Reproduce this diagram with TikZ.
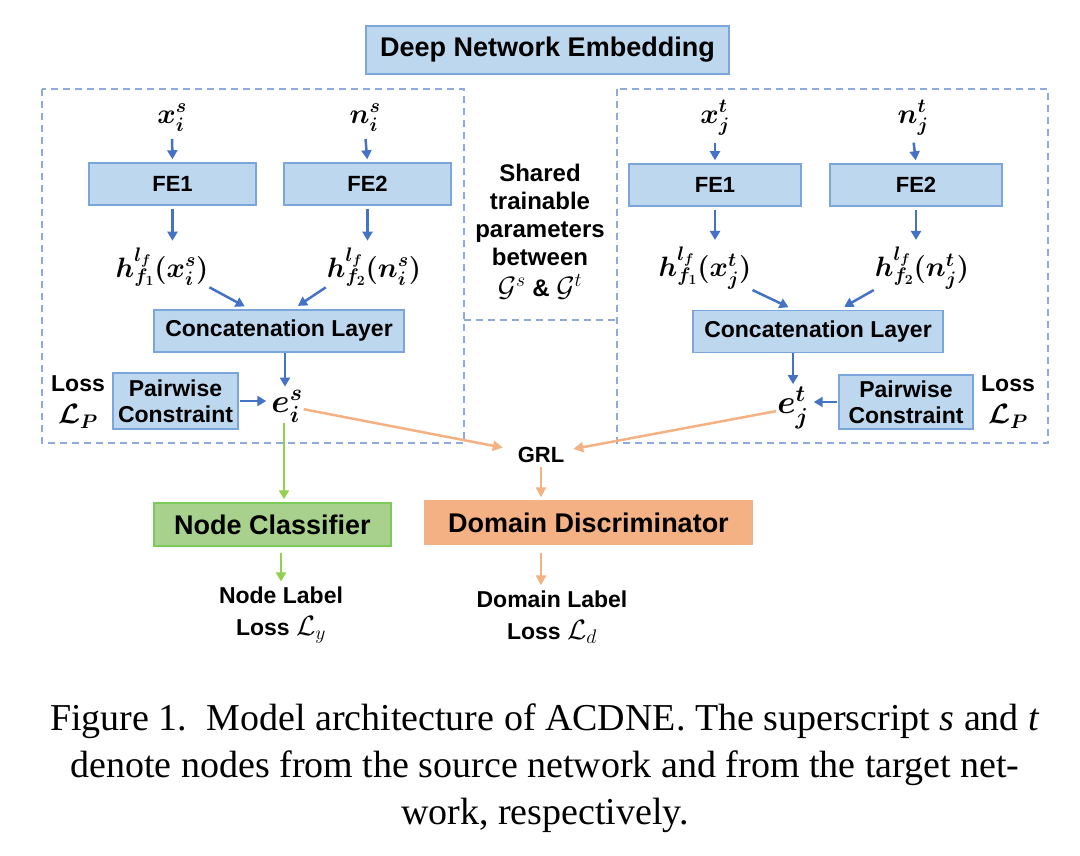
\documentclass[tikz,border=0pt]{standalone}
\usepackage{fix-cm}
\usepackage{fontspec}
\setmainfont{Liberation Serif}
\newfontfamily\arialfont{Liberation Sans}
\usetikzlibrary{arrows.meta}
\definecolor{boxfill}{HTML}{BDD7EE}
\definecolor{boxline}{HTML}{7AA6DB}
\definecolor{dashblue}{HTML}{8FAADC}
\definecolor{arrblue}{HTML}{4472C4}
\definecolor{orangeline}{HTML}{F4B183}
\definecolor{greenline}{HTML}{92D050}
\definecolor{greenfill}{HTML}{A9D18E}
\definecolor{greenedge}{HTML}{7CCB5A}
\newcommand{\mathbig}[1]{{\fontsize{28}{28}\selectfont#1}}
\begin{document}
\begin{tikzpicture}[x=1pt, y=-1pt,
	box/.style={draw=boxline, fill=boxfill, line width=1.5pt, inner sep=0pt, align=center, font=\arialfont\bfseries\fontsize{23}{26}\selectfont},
	sym/.style={inner sep=1pt, font=\fontsize{28}{32}\selectfont\boldmath},
	txt/.style={inner sep=1pt, align=center, font=\arialfont\bfseries\fontsize{23}{29}\selectfont},
	captxt/.style={inner sep=0pt, font=\fontsize{38}{47}\selectfont},
	dashbox/.style={draw=dashblue, line width=1.5pt, dash pattern=on 7pt off 5pt},
	barr/.style={draw=arrblue, line width=2.5pt, -{Triangle[length=9pt, width=10pt]}},
	oarr/.style={draw=orangeline, line width=2.5pt, -{Triangle[length=10pt, width=10pt]}},
	garr/.style={draw=greenline, line width=2.5pt, -{Triangle[length=9pt, width=10pt]}}]
	\useasboundingbox (0,0) rectangle (1080,856);
	\draw [dashbox] (42,89) rectangle (464,443);
	\draw [dashbox] (617,89) rectangle (1048,443);
	\draw [dashbox] (464,320) -- (617,320);
	\node [box, minimum width=363, minimum height=48, font=\arialfont\bfseries\fontsize{27}{32}\selectfont] (dne) at (547.5,50) {Deep Network Embedding};
	\node [txt, font=\arialfont\bfseries\fontsize{24}{28}\selectfont] (shared) at (540,232) {Shared\\trainable\\parameters\\between\\[3pt]\mathbig{$\mathcal{G}^s$} \& \mathbig{$\mathcal{G}^t$}};

	\node [sym] (xs) at (172,118) {$x_i^s$};
	\node [sym] (ns) at (365,118) {$n_i^s$};
	\node [box, minimum width=167, minimum height=42, font=\arialfont\bfseries\fontsize{22}{26}\selectfont] (fe1s) at (172.5,184) {FE1};
	\node [box, minimum width=167, minimum height=42, font=\arialfont\bfseries\fontsize{22}{26}\selectfont] (fe2s) at (367.5,184) {FE2};
	\node [sym] (hxs) at (162,267) {$h_{f_1}^{l_f}(x_i^s)$};
	\node [sym] (hns) at (374,267) {$h_{f_2}^{l_f}(n_i^s)$};
	\node [box, minimum width=250, minimum height=42] (cats) at (279,331) {Concatenation Layer};
	\node [sym, font=\fontsize{33}{36}\selectfont\boldmath] (es) at (287,406) {$e_i^s$};
	\node [box, minimum width=125, minimum height=56] (pcs) at (175.5,401) {Pairwise\\Constraint};
	\node [txt] (losss) at (78,402) {Loss\\[3pt]\mathbig{\boldmath$\mathcal{L}_P$}};

	\node [sym] (xt) at (715,118) {$x_j^t$};
	\node [sym] (nt) at (913,118) {$n_j^t$};
	\node [box, minimum width=172, minimum height=42, font=\arialfont\bfseries\fontsize{22}{26}\selectfont] (fe1t) at (715,185) {FE1};
	\node [box, minimum width=172, minimum height=42, font=\arialfont\bfseries\fontsize{22}{26}\selectfont] (fe2t) at (916,185) {FE2};
	\node [sym] (hxt) at (705,268) {$h_{f_1}^{l_f}(x_j^t)$};
	\node [sym] (hnt) at (922,268) {$h_{f_2}^{l_f}(n_j^t)$};
	\node [box, minimum width=250, minimum height=42] (catt) at (818,331.5) {Concatenation Layer};
	\node [sym, font=\fontsize{33}{36}\selectfont\boldmath] (et) at (793,408) {$e_j^t$};
	\node [box, minimum width=134, minimum height=54] (pct) at (906,402) {Pairwise\\Constraint};
	\node [txt] (losst) at (1008,402) {Loss\\[3pt]\mathbig{\boldmath$\mathcal{L}_P$}};

	\node [txt, font=\arialfont\bfseries\fontsize{22}{26}\selectfont] (grl) at (541,455) {GRL};
	\node [box, draw=greenedge, fill=greenfill, minimum width=237, minimum height=43, font=\arialfont\bfseries\fontsize{27}{32}\selectfont] (nc) at (272.5,524.5) {Node Classifier};
	\node [box, draw=orangeline, fill=orangeline, minimum width=327, minimum height=43, font=\arialfont\bfseries\fontsize{27}{32}\selectfont] (dd) at (588.5,522.5) {Domain Discriminator};
	\node [txt] (nl) at (281,615) {Node Label\\[3pt]Loss \mathbig{$\mathcal{L}_y$}};
	\node [txt] (dl) at (552,617) {Domain Label\\[3pt]Loss \mathbig{$\mathcal{L}_d$}};

	\draw [barr, shorten <=6pt, shorten >=3pt] (xs.south) -- (fe1s.north);
	\draw [barr, shorten <=6pt, shorten >=3pt] (ns.south) -- (fe2s.north);
	\draw [barr, shorten <=3pt, shorten >=6pt] (fe1s.south) -- (fe1s.south |- hxs.north);
	\draw [barr, shorten <=3pt, shorten >=6pt] (fe2s.south) -- (fe2s.south |- hns.north);
	\draw [barr, shorten >=6pt] (hxs.south east) -- ([xshift=-29pt]cats.north);
	\draw [barr, shorten >=6pt] (hns.south west) -- ([xshift=14pt]cats.north);
	\draw [barr, shorten >=2pt] ([xshift=6pt]cats.south) -- ([xshift=6pt]cats.south |- es.north);
	\draw [barr, shorten <=1pt, shorten >=4pt] (pcs.east) -- (pcs.east -| es.west);

	\draw [barr, shorten <=6pt, shorten >=3pt] (xt.south) -- (fe1t.north);
	\draw [barr, shorten <=6pt, shorten >=3pt] (nt.south) -- (fe2t.north);
	\draw [barr, shorten <=3pt, shorten >=6pt] (fe1t.south) -- (fe1t.south |- hxt.north);
	\draw [barr, shorten <=3pt, shorten >=6pt] (fe2t.south) -- (fe2t.south |- hnt.north);
	\draw [barr, shorten >=6pt] (hxt.south east) -- ([xshift=-24pt]catt.north);
	\draw [barr, shorten >=6pt] (hnt.south west) -- ([xshift=21pt]catt.north);
	\draw [barr, shorten >=2pt] ([xshift=-25pt]catt.south) -- ([xshift=-25pt]catt.south |- et.north);
	\draw [barr, shorten <=1pt, shorten >=4pt] (pct.west) -- (pct.west -| et.east);

	\draw [oarr, shorten >=14pt] (es) -- (grl);
	\draw [oarr, shorten >=8pt] (et) -- (grl);
	\draw [garr, shorten >=3pt] ([xshift=-3pt]es.south) -- ([xshift=-3pt]es.south |- nc.north);
	\draw [oarr, shorten <=3pt, shorten >=3pt] (grl.south) -- (grl.south |- dd.north);
	\draw [garr, shorten <=6pt, shorten >=4pt] (nl.north |- nc.south) -- (nl.north);
	\draw [oarr, shorten <=8pt, shorten >=4pt] (grl.south |- dd.south) -- (grl.south |- dl.north);

	\node [captxt, anchor=base] (cap1) at (545,730) {Figure 1.~~Model architecture of ACDNE. The superscript \textit{s} and \textit{t}};
	\node [captxt, anchor=base] (cap2) at (545,777) {denote nodes from the source network and from the target net-};
	\node [captxt, anchor=base] (cap3) at (545,824) {work, respectively.};
\end{tikzpicture}
\end{document}
